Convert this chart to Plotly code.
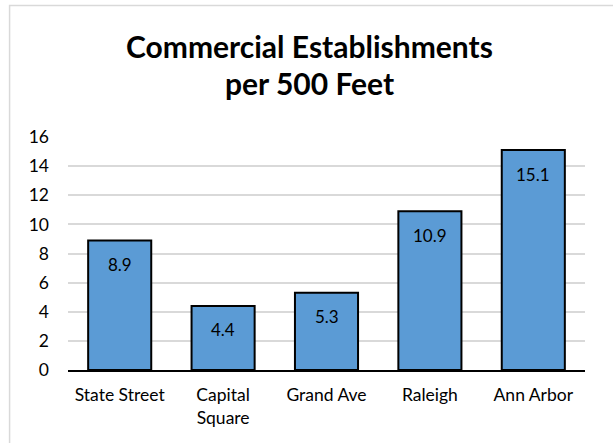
import plotly.graph_objects as go

categories = ["State Street", "Capital<br>Square", "Grand Ave", "Raleigh", "Ann Arbor"]
values = [8.9, 4.4, 5.3, 10.9, 15.1]
value_labels = ["8.9", "4.4", "5.3", "10.9", "15.1"]
y_ticks = [0, 2, 4, 6, 8, 10, 12, 14, 16]
title_lines = ["Commercial Establishments", "per 500 Feet"]

FONT = "Lato, Calibri, Carlito, sans-serif"

fig = go.Figure()
fig.add_trace(go.Bar(
    x=categories,
    y=values,
    marker=dict(color="#5B9BD5", line=dict(color="#000000", width=2)),
    hoverinfo="x+y",
))

for cat, v, lab in zip(categories, values, value_labels):
    fig.add_annotation(
        x=cat, y=v, text=lab, showarrow=False,
        yanchor="middle", yshift=-24,
        font=dict(family=FONT, size=17, color="#000000"),
    )

# title lines (paper coords; plot area spans y 0..1 = 233 px)
for line, ypos in zip(title_lines, [1.39, 1.232]):
    fig.add_annotation(
        xref="paper", yref="paper", x=0.467, y=ypos,
        xanchor="center", yanchor="middle", showarrow=False,
        text="<b>" + line + "</b>",
        font=dict(family=FONT, size=30, color="#000000"),
    )

fig.update_layout(
    width=613, height=443,
    margin=dict(l=68, r=28, t=137, b=73, pad=0),
    paper_bgcolor="#ffffff",
    plot_bgcolor="#ffffff",
    bargap=0.39,
    showlegend=False,
    font=dict(family=FONT, size=17, color="#000000"),
    xaxis=dict(
        showline=True, linecolor="#000000", linewidth=2,
        showgrid=False, ticks="", ticklabelstandoff=8,
        tickfont=dict(family=FONT, size=17.5, color="#000000"),
    ),
    yaxis=dict(
        range=[0, 16], tickvals=y_ticks, showgrid=True,
        gridcolor="#d9d9d9", gridwidth=1.5, zeroline=False,
        showline=False, ticks="", ticklabelstandoff=18,
        tickfont=dict(family=FONT, size=17.5, color="#000000"),
    ),
    shapes=[dict(
        type="rect", xref="paper", yref="paper",
        x0=-0.113, x1=1.3, y0=-0.6, y1=1.564,
        line=dict(color="#d9d9d9", width=1.5),
        fillcolor="rgba(0,0,0,0)", layer="below",
    )],
)

fig.write_html(
    "out.html",
    config={"displayModeBar": False},
    post_script="document.body.style.margin='0';document.body.style.overflow='hidden';",
)
